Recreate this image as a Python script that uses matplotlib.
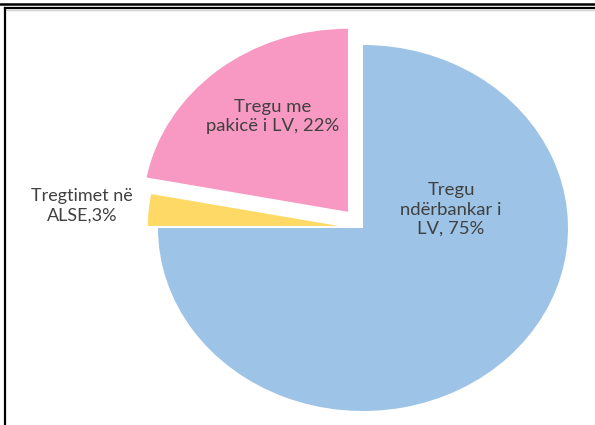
import matplotlib.pyplot as plt
from matplotlib.lines import Line2D

labels = ['Tregu\nndërbankar i\nLV, 75%', 'Tregtimet në\nALSE,3%', 'Tregu me\npakicë i LV, 22%']
shares = [75, 3, 22]
colors = ['#9DC3E6', '#FFD966', '#F799C3']
explode = [0, 0.12, 0.115]

plt.rcParams['font.family'] = ['Lato', 'DejaVu Sans']

fig = plt.figure(figsize=(5.95, 4.25), dpi=100)
ax = fig.add_axes([0, 0, 1, 1])

wedges, texts = ax.pie(shares, colors=colors, explode=explode, startangle=90,
                       counterclock=False, radius=1)
for w in wedges:
    w.set_linewidth(0)
wedges[1].set_radius(0.93)  # small slice is drawn a little smaller

ax.set_aspect('auto')
ax.set_xlim(-1.7707, 1.1317)
ax.set_ylim(-1.0765, 1.2459)
ax.axis('off')

# label positions in data units
ax.text(0.43, 0.10, labels[0], ha='center', va='center', fontsize=13.3,
        color='#404040', linespacing=1.25)
ax.text(-1.37, 0.12, labels[1], ha='center', va='center', fontsize=13,
        color='#404040', linespacing=1.25)
ax.text(-0.44, 0.61, labels[2], ha='center', va='center', fontsize=13.3,
        color='#404040', linespacing=1.25)

# frame lines
fig.add_artist(Line2D([0, 1], [1 - 3.8 / 425] * 2, color='black', lw=1.8))
fig.add_artist(Line2D([5 / 595, 1], [1 - 7.8 / 425] * 2, color='black', lw=1.6))
fig.add_artist(Line2D([6 / 595, 1], [1 - 9.5 / 425] * 2, color='#d0d0d0', lw=1))
fig.add_artist(Line2D([5 / 595] * 2, [0, 1 - 7.8 / 425], color='black', lw=1.6))

fig.savefig('out.png', dpi=100)
